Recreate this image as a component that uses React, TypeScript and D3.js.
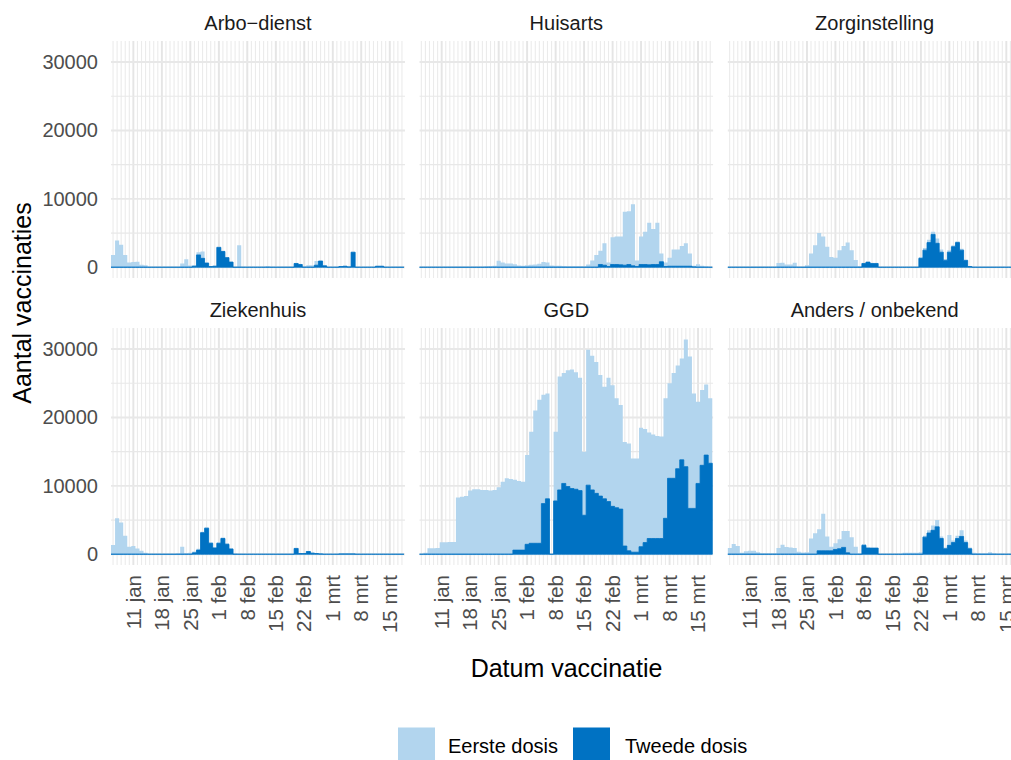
import React from 'react';
import * as d3 from 'd3';

// ---------- DATA ----------
const DAY = 86400000;
const START = Date.UTC(2021, 0, 6);
const END = Date.UTC(2021, 2, 19);
const dates: Date[] = d3.utcDay.range(new Date(START), new Date(END)); // 6 jan .. 18 mrt

const facetNames = ['Arbo−dienst', 'Huisarts', 'Zorginstelling', 'Ziekenhuis', 'GGD', 'Anders / onbekend'];
const seriesNames = ['Eerste dosis', 'Tweede dosis'];

const tickDates = ['2021-01-11', '2021-01-18', '2021-01-25', '2021-02-01', '2021-02-08', '2021-02-15', '2021-02-22', '2021-03-01', '2021-03-08', '2021-03-15'];
const tickLabels = ['11 jan', '18 jan', '25 jan', '1 feb', '8 feb', '15 feb', '22 feb', '1 mrt', '8 mrt', '15 mrt'];
const yTicks = [0, 10000, 20000, 30000];
const yGridValues = [0, 5000, 10000, 15000, 20000, 25000, 30000];

const arboEerste = [
  1800, 3900, 3300, 1800, 700, 750, 800, 350, 300, 50,
  0, 0, 0, 0, 0, 0, 50, 550, 1150, 250,
  300, 2200, 2300, 700, 150, 200, 3000, 2400, 1500, 800,
  50, 3200, 0, 0, 0, 0, 0, 50, 150, 50,
  0, 0, 0, 0, 50, 600, 450, 100, 300, 300,
  900, 950, 250, 50, 0, 0, 150, 150, 100, 2200,
  50, 0, 0, 0, 0, 150, 150, 0, 0, 0,
  0, 0,
];
const arboTweede = [
  0, 0, 0, 0, 0, 0, 0, 0, 0, 0,
  0, 0, 0, 0, 0, 0, 0, 0, 0, 0,
  150, 1800, 1300, 600, 100, 150, 2900, 2300, 1400, 750,
  0, 0, 0, 0, 0, 0, 0, 0, 0, 0,
  0, 0, 0, 0, 0, 550, 400, 0, 0, 0,
  300, 900, 200, 0, 0, 0, 100, 150, 50, 2200,
  0, 0, 0, 0, 0, 150, 150, 0, 0, 0,
  0, 0,
];
const huisartsEerste = [
  0, 0, 0, 0, 0, 0, 0, 0, 0, 0,
  0, 0, 0, 0, 50, 50, 100, 150, 200, 950,
  700, 550, 550, 450, 250, 200, 300, 350, 400, 500,
  750, 700, 250, 200, 200, 150, 100, 100, 100, 100,
  100, 400, 1000, 1800, 2400, 3500, 700, 4400, 4500, 4500,
  8100, 8200, 9200, 1000, 4500, 5200, 6500, 5600, 6500, 2000,
  700, 1400, 2600, 2600, 3100, 3500, 2000, 200, 450, 200,
  100, 50,
];
const huisartsTweede = [
  0, 0, 0, 0, 0, 0, 0, 0, 0, 0,
  0, 0, 0, 0, 0, 0, 0, 0, 0, 0,
  0, 0, 0, 0, 0, 0, 0, 0, 0, 0,
  0, 0, 0, 0, 0, 0, 0, 0, 0, 0,
  0, 0, 0, 0, 400, 300, 100, 400, 400, 350,
  300, 400, 200, 100, 400, 400, 350, 400, 400, 800,
  100, 150, 150, 150, 150, 150, 150, 50, 0, 0,
  0, 0,
];
const zorgEerste = [
  0, 0, 0, 0, 0, 0, 0, 0, 0, 0,
  0, 0, 600, 650, 400, 400, 650, 50, 50, 300,
  2000, 3200, 5000, 4500, 3000, 1500, 1400, 2500, 3100, 3600,
  2500, 1050, 150, 550, 750, 550, 550, 50, 0, 0,
  0, 0, 0, 0, 0, 0, 0, 1500, 2800, 4000,
  5200, 4200, 2600, 1200, 2500, 3200, 3800, 2700, 1100, 150,
  0, 0, 0, 0, 0, 0, 0, 0, 0, 0,
  0, 0,
];
const zorgTweede = [
  0, 0, 0, 0, 0, 0, 0, 0, 0, 0,
  0, 0, 0, 0, 0, 0, 0, 0, 0, 0,
  0, 0, 0, 0, 0, 0, 0, 0, 0, 0,
  0, 0, 0, 550, 750, 550, 550, 0, 0, 0,
  0, 0, 0, 0, 0, 0, 0, 1300, 2500, 3600,
  4800, 3500, 2200, 1000, 2200, 3000, 3600, 2500, 1000, 100,
  0, 0, 0, 0, 0, 0, 0, 0, 0, 0,
  0, 0,
];
const ziekenhuisEerste = [
  1350, 5250, 4650, 2700, 1100, 1200, 850, 500, 230, 50,
  50, 0, 50, 50, 50, 50, 100, 1100, 150, 200,
  400, 800, 3300, 3950, 1750, 1050, 1750, 2450, 1600, 900,
  100, 0, 0, 0, 0, 0, 0, 0, 0, 0,
  0, 0, 0, 0, 0, 900, 150, 150, 450, 250,
  150, 100, 50, 0, 0, 0, 80, 80, 80, 100,
  0, 0, 0, 0, 0, 0, 0, 0, 0, 0,
  0, 0,
];
const ziekenhuisTweede = [
  0, 0, 0, 0, 0, 0, 0, 0, 0, 0,
  0, 0, 0, 0, 0, 0, 0, 0, 0, 0,
  200, 600, 3150, 3800, 1600, 900, 1600, 2300, 1450, 750,
  0, 0, 0, 0, 0, 0, 0, 0, 0, 0,
  0, 0, 0, 0, 0, 850, 100, 100, 400, 150,
  100, 50, 0, 0, 0, 0, 50, 50, 50, 50,
  0, 0, 0, 0, 0, 0, 0, 0, 0, 0,
  0, 0,
];
const ggdEerste = [
  0, 200, 870, 870, 900, 1750, 1750, 1800, 1800, 8300,
  8400, 8500, 9300, 9500, 9500, 9400, 9400, 9300, 9400, 9800,
  10600, 11100, 11000, 10900, 10700, 10600, 14500, 17900, 21000, 22600,
  23300, 23500, 0, 17900, 26000, 26500, 26900, 27000, 26600, 25800,
  15000, 29900, 29000, 28100, 26200, 24500, 25800, 24700, 22800, 21800,
  16400, 16200, 14000, 14000, 18500, 18300, 17800, 17500, 17300, 17200,
  22800, 25000, 26500, 27600, 28600, 31400, 28900, 23500, 22300, 24000,
  24800, 22800,
];
const ggdTweede = [
  0, 0, 0, 0, 0, 0, 0, 0, 0, 0,
  0, 0, 0, 0, 0, 0, 0, 0, 0, 0,
  0, 0, 0, 600, 600, 600, 1450, 1600, 1600, 1600,
  7400, 8100, 0, 7800, 9400, 10350, 9900, 9600, 9500, 9300,
  5700, 10100, 9400, 8900, 8500, 8100, 7700, 7000, 6800, 6600,
  1200, 500, 300, 300, 1100, 1700, 2300, 2300, 2300, 2300,
  5250, 11100, 11100, 12500, 13800, 12800, 6700, 6700, 10350, 13000,
  14500, 13300,
];
const andersEerste = [
  900, 1500, 1200, 200, 450, 500, 500, 300, 100, 100,
  100, 100, 900, 1400, 1050, 1000, 900, 350, 250, 300,
  2300, 3050, 3650, 5900, 2600, 1100, 1600, 2200, 3400, 3400,
  2500, 1100, 100, 1500, 1000, 900, 900, 50, 0, 0,
  0, 0, 0, 200, 200, 200, 200, 300, 2700, 3500,
  4200, 5000, 2600, 1000, 2800, 2000, 2700, 3500, 2000, 1000,
  200, 150, 100, 100, 300, 100, 0, 0, 0, 0,
  0, 0,
];
const andersTweede = [
  0, 0, 0, 0, 0, 0, 0, 0, 0, 0,
  0, 0, 0, 0, 0, 0, 0, 0, 0, 0,
  0, 0, 500, 500, 500, 500, 700, 800, 1000, 200,
  0, 0, 0, 1300, 900, 900, 900, 0, 0, 0,
  0, 0, 0, 0, 0, 0, 0, 0, 2500, 3100,
  3500, 4000, 2300, 800, 1300, 1700, 2300, 2600, 1700, 800,
  0, 0, 0, 0, 0, 0, 0, 0, 0, 0,
  0, 0,
];

const eersteByFacet = [arboEerste, huisartsEerste, zorgEerste, ziekenhuisEerste, ggdEerste, andersEerste];
const tweedeByFacet = [arboTweede, huisartsTweede, zorgTweede, ziekenhuisTweede, ggdTweede, andersTweede];

// ---------- STYLE / LAYOUT ----------
const W = 1011;
const H = 760;
const LIGHT = '#b2d5ee';
const DARK = '#0072c3';
const GRID = '#ebebeb';
const FONT = '"Liberation Sans", Arial, Helvetica, sans-serif';

const panelLeft0 = 111;
const panelStride = 308.3;
const panelW = 294;
const panelH = 237;
const rowTops = [41, 328];

const xDomain: [Date, Date] = [new Date(START - DAY / 2), new Date(START + 71.75 * DAY)];
const yDomain: [number, number] = [-1575, 33075];

function Panel({ idx }: { idx: number }) {
  const col = idx % 3;
  const row = Math.floor(idx / 3);
  const left = panelLeft0 + col * panelStride;
  const top = rowTops[row];
  const x = d3.scaleUtc().domain(xDomain).range([left, left + panelW]);
  const y = d3.scaleLinear().domain(yDomain).range([top + panelH, top]);

  const makePts = (vals: number[]) => {
    const pts = dates.map((dt, i) => ({ t: new Date(+dt - DAY / 2), v: vals[i] }));
    pts.push({ t: new Date(+dates[dates.length - 1] + DAY / 2), v: vals[vals.length - 1] });
    return pts;
  };
  const area = d3
    .area<{ t: Date; v: number }>()
    .x((p) => x(p.t))
    .y0(y(0))
    .y1((p) => y(p.v))
    .curve(d3.curveStepAfter);

  const tickD = tickDates.map((s) => new Date(s + 'T00:00:00Z'));
  const clipId = `clip${idx}`;

  return (
    <g>
      <defs>
        <clipPath id={clipId}>
          <rect x={left} y={top} width={panelW} height={panelH} />
        </clipPath>
      </defs>
      <g clipPath={`url(#${clipId})`}>
        {dates.map((dt, i) => (
          <line key={'mv' + i} x1={x(dt)} x2={x(dt)} y1={top} y2={top + panelH} stroke={GRID} strokeWidth={1.1} />
        ))}
        {tickD.map((dt, i) => (
          <line key={'Mv' + i} x1={x(dt)} x2={x(dt)} y1={top} y2={top + panelH} stroke="#e5e5e5" strokeWidth={1.9} />
        ))}
        {yGridValues.map((v) => (
          <line key={'h' + v} x1={left} x2={left + panelW} y1={y(v)} y2={y(v)} stroke="#e8e8e8" strokeWidth={v % 10000 === 0 ? 1.9 : 1.2} />
        ))}
        <path d={area(makePts(eersteByFacet[idx])) || ''} fill={LIGHT} />
        <path d={area(makePts(tweedeByFacet[idx])) || ''} fill={DARK} stroke={DARK} strokeWidth={0.8} />
      </g>
      <text x={left + panelW / 2} y={top - 11} textAnchor="middle" fontSize={20} fill="#1a1a1a" fontFamily={FONT}>
        {facetNames[idx]}
      </text>
      {col === 0 &&
        yTicks.map((v) => (
          <text key={'yl' + v} x={98} y={y(v)} dy="0.35em" textAnchor="end" fontSize={20} fill="#4d4d4d" fontFamily={FONT}>
            {v}
          </text>
        ))}
      {row === 1 &&
        tickD.map((dt, i) => (
          <text
            key={'xl' + i}
            transform={`translate(${x(dt)},${top + panelH + 10}) rotate(-90)`}
            dy="0.35em"
            textAnchor="end"
            fontSize={20.5}
            fill="#4d4d4d"
            fontFamily={FONT}
          >
            {tickLabels[i]}
          </text>
        ))}
    </g>
  );
}

export default function App() {
  return (
    <svg
      width={W}
      height={H}
      style={{ position: 'absolute', left: 0, top: 0, background: '#fff' }}
      xmlns="http://www.w3.org/2000/svg"
    >
      <rect x={0} y={0} width={W} height={H} fill="#fff" />
      {facetNames.map((_, i) => (
        <Panel key={i} idx={i} />
      ))}
      <text transform="translate(22,303) rotate(-90)" dy="0.35em" textAnchor="middle" fontSize={25} fill="#000" fontFamily={FONT}>
        Aantal vaccinaties
      </text>
      <text x={566.5} y={677} textAnchor="middle" fontSize={25} fill="#000" fontFamily={FONT}>
        Datum vaccinatie
      </text>
      <g>
        <rect x={398} y={727.5} width={37} height={37} fill={LIGHT} />
        <text x={448} y={746} dy="0.35em" fontSize={20} fill="#000" fontFamily={FONT}>
          {seriesNames[0]}
        </text>
        <rect x={573} y={727.5} width={37} height={37} fill={DARK} />
        <text x={625} y={746} dy="0.35em" fontSize={20} fill="#000" fontFamily={FONT}>
          {seriesNames[1]}
        </text>
      </g>
    </svg>
  );
}
